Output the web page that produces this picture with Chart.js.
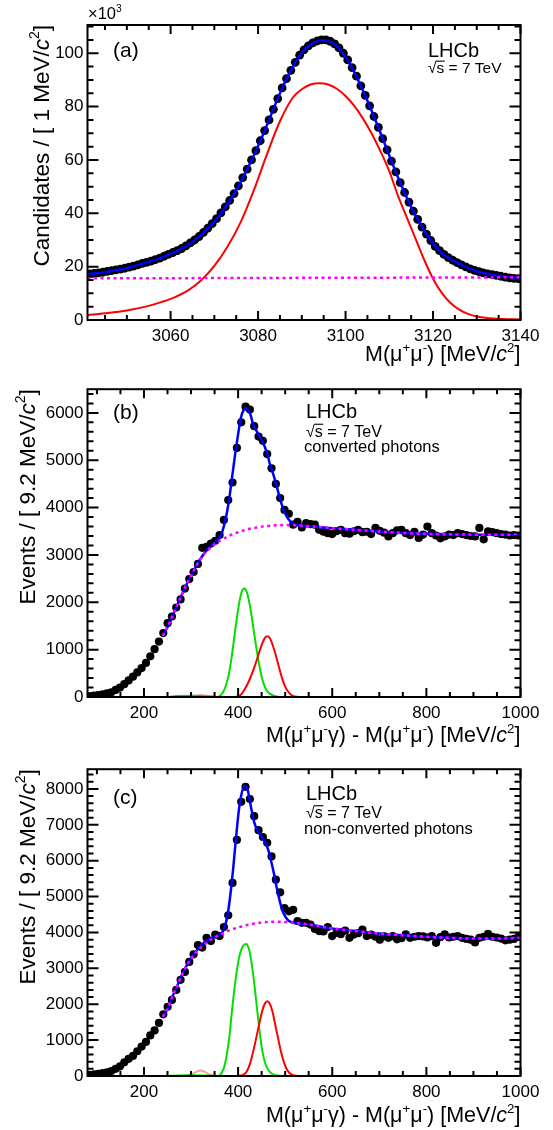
<!DOCTYPE html>
<html>
<head>
<meta charset="utf-8">
<script src="https://cdn.jsdelivr.net/npm/chart.js@4.4.1/dist/chart.umd.min.js"></script>
<style>
  html, body { margin: 0; padding: 0; background: #fff; }
  #wrap { position: relative; width: 553px; height: 1130px; }
  #wrap canvas { position: absolute; left: 0; }
</style>
</head>
<body>
<div id="wrap">
  <canvas id="panelA" width="553" height="375" style="top:0"></canvas>
  <canvas id="panelB" width="553" height="380" style="top:375px"></canvas>
  <canvas id="panelC" width="553" height="375" style="top:755px"></canvas>
</div>
<script>
// ---- (a) M(mu+mu-) , 1 MeV bins, counts in units of 10^3
const massLoA = 3041, binA = 1;
const countsA = [
  17.3, 17.5, 17.7, 17.9, 18.2, 18.5, 18.8, 19.1, 19.4, 19.8,
  20.2, 20.7, 21.2, 21.6, 22.1, 22.6, 23.2, 23.9, 24.6, 25.3,
  26.0, 26.8, 27.8, 28.9, 30.0, 31.3, 32.8, 34.4, 36.1, 38.0,
  40.2, 42.4, 44.8, 47.4, 50.3, 53.4, 56.6, 60.0, 63.5, 67.2,
  71.0, 75.0, 79.0, 83.0, 87.0, 90.5, 93.6, 96.6, 99.3, 101.3,
  102.8, 103.9, 104.6, 105.0, 105.0, 104.5, 103.5, 102.0, 100.0, 97.5,
  94.6, 91.4, 87.8, 84.2, 80.3, 76.3, 72.2, 68.0, 63.8, 59.6,
  55.5, 51.5, 47.8, 44.2, 40.8, 37.7, 34.8, 32.2, 29.8, 27.6,
  26.0, 24.6, 23.4, 22.4, 21.5, 20.7, 19.9, 19.2, 18.6, 18.1,
  17.7, 17.3, 17.0, 16.7, 16.4, 16.1, 15.8, 15.6, 15.5
];
const totalXA = [3041, 3043, 3045, 3047, 3049, 3051, 3053, 3055, 3057, 3059, 3061, 3063, 3065, 3067, 3069, 3071, 3073,
  3075, 3077, 3079, 3081, 3083, 3085, 3087, 3089, 3091, 3093, 3095, 3097, 3099, 3101, 3103, 3105, 3107, 3109, 3111,
  3113, 3115, 3117, 3119, 3121, 3123, 3125, 3127, 3129, 3131, 3133, 3135, 3137, 3139, 3140];
const totalYA = [17.1, 17.5, 17.95, 18.55, 19.15, 19.9, 20.85, 21.75, 22.8, 24.15, 25.55, 27.2, 29.35, 31.9, 35.1, 38.9, 43.5,
  48.7, 54.9, 61.6, 69, 77, 85, 92, 97.9, 102, 104.2, 104.9, 103.9, 100.9, 96, 89.5, 82.2, 74.2, 65.9, 57.5,
  49.6, 42.4, 36.2, 31, 26.7, 23.9, 21.9, 20.3, 18.9, 17.8, 17.2, 16.6, 16.2, 15.9, 15.8];
const signalXA = [3041, 3045, 3050, 3055, 3058, 3061, 3064, 3067, 3070, 3073, 3076, 3079, 3082, 3085, 3088, 3090, 3092,
  3094, 3096, 3098, 3100, 3102, 3104, 3106, 3108, 3110, 3112, 3114, 3116, 3118, 3120, 3122, 3124, 3126, 3128, 3130,
  3133, 3136, 3140];
const signalYA = [1.8, 2.5, 3.6, 5.3, 6.8, 8.6, 11.1, 14.9, 20.3, 27.5, 36.6, 48.5, 62, 74.5, 83.5, 86.5, 88.3,
  88.8, 88.3, 86.7, 84, 80.3, 75.5, 69.8, 63.2, 55.8, 46.5, 38.5, 30.5, 22.5, 15.5, 10.2, 6.4, 3.9, 2.3, 1.3,
  0.7, 0.35, 0.2];
const bkgXA = [3041, 3090, 3140];
const bkgYA = [15.6, 15.8, 16.0];
const ticksXA = [3060, 3080, 3100, 3120, 3140];
const ticksYA = [0, 20, 40, 60, 80, 100];

// ---- (b) converted photons, 9.2 MeV bins from 80 MeV
const deltaLo = 80, binB = 9.2;
const countsB = [
  20, 30, 40, 55, 75, 100, 150, 200, 270, 350,
  430, 520, 610, 720, 860, 1010, 1170, 1350, 1560, 1700,
  1890, 2060, 2290, 2490, 2640, 2810, 3150, 3170, 3240, 3300,
  3420, 3740, 4160, 4530, 5260, 5800, 6130, 6070, 5720, 5500,
  5410, 5130, 4830, 4500, 4200, 3950, 3870, 3640, 3700, 3580,
  3670, 3650, 3640, 3530, 3490, 3460, 3440, 3500, 3530, 3460,
  3450, 3500, 3530, 3480, 3490, 3440, 3570, 3510, 3470, 3390,
  3460, 3520, 3530, 3460, 3420, 3490, 3360, 3430, 3600, 3460,
  3410, 3350, 3390, 3430, 3420, 3460, 3440, 3420, 3400, 3390,
  3570, 3330, 3500, 3480, 3460, 3440, 3430, 3410, 3420, 3410
];
const totalXB = [240, 250, 260, 270, 280, 290, 300, 310, 320, 330, 340, 350, 358, 364, 370, 376, 382, 388, 394,
  400, 406, 412, 416, 420, 426, 432, 438, 444, 450, 456, 462, 468, 474, 480, 486, 492, 498, 504, 510,
  520, 530, 560, 600, 650, 700, 750, 800, 850, 900, 950, 1000];
const totalYB = [1290, 1480, 1700, 1930, 2150, 2370, 2560, 2750, 2920, 3060, 3170, 3260, 3340, 3420, 3620, 3880, 4250, 4700, 5150,
  5550, 5900, 6070, 6100, 6080, 5970, 5760, 5640, 5530, 5430, 5300, 5130, 4900, 4730, 4520, 4300, 4090, 3920, 3800, 3720,
  3650, 3625, 3600, 3565, 3530, 3495, 3465, 3445, 3435, 3428, 3425, 3425];
const bkgXB = [240, 250, 260, 270, 280, 290, 300, 310, 320, 330, 340, 350, 360, 380, 400, 420, 440, 460, 480, 500, 520,
  560, 600, 650, 700, 750, 800, 850, 900, 950, 1000];
const bkgYB = [1290, 1480, 1700, 1930, 2150, 2370, 2560, 2750, 2910, 3040, 3140, 3220, 3290, 3400, 3480, 3540, 3580, 3610, 3625, 3630, 3625,
  3600, 3565, 3530, 3495, 3465, 3445, 3435, 3428, 3425, 3425];
const chic1XB = [250, 270, 300, 330, 354, 368, 379, 386, 393, 400, 407, 413, 419, 426, 433, 441, 450, 460, 475, 490];
const chic1YB = [0, 20, 28, 18, 0, 100, 420, 820, 1350, 1850, 2200, 2290, 2200, 1880, 1420, 900, 430, 150, 30, 0];
const chic2XB = [395, 405, 415, 425, 435, 445, 452, 457, 462, 467, 472, 479, 486, 493, 500, 508, 516, 530];
const chic2YB = [0, 40, 180, 380, 640, 950, 1150, 1250, 1285, 1250, 1140, 920, 660, 410, 220, 90, 25, 0];
const chic0XB = [290, 305, 320, 335, 350];
const chic0YB = [0, 25, 40, 25, 0];
const ticksXB = [200, 400, 600, 800, 1000];
const ticksYB = [0, 1000, 2000, 3000, 4000, 5000, 6000];

// ---- (c) non-converted photons
const countsC = [
  30, 45, 60, 80, 105, 140, 200, 270, 380, 480,
  560, 690, 820, 950, 1130, 1270, 1480, 1720, 1930, 2120,
  2400, 2680, 2900, 3180, 3390, 3650, 3580, 3850, 3760, 3940,
  3900, 4150, 4480, 5380, 6580, 7640, 8060, 7720, 7240, 6850,
  6660, 6500, 6120, 5470, 5120, 4680, 4590, 4630, 4320, 4270,
  4270, 4220, 4100, 4040, 4030, 4150, 3900, 3990, 3950, 4050,
  3850, 3940, 3980, 4080, 3900, 3940, 3880, 3800, 3890, 3850,
  3900, 3810, 3840, 3950, 3850, 3880, 3900, 3890, 3860, 3900,
  3710, 3870, 3950, 3860, 3880, 3900, 3850, 3820, 3800, 3720,
  3850, 3880, 3960, 3880, 3860, 3830, 3780, 3800, 3820, 3880
];
const totalXC = [240, 250, 260, 270, 280, 290, 300, 310, 320, 330, 340, 350, 360, 366, 372, 378, 384, 390, 396, 402, 408, 414, 418,
  422, 428, 434, 440, 446, 452, 458, 464, 470, 476, 482, 488, 494, 500, 508, 516, 530, 550, 600, 650, 700, 750, 800, 850, 900, 950, 1000];
const totalYC = [1650, 1870, 2200, 2490, 2800, 3060, 3280, 3460, 3620, 3740, 3820, 3880, 3940, 4000, 4170, 4520, 5100, 5850, 6700, 7450, 7900, 8080, 8060,
  7880, 7450, 7080, 6870, 6740, 6630, 6500, 6300, 6000, 5650, 5250, 4900, 4620, 4450, 4320, 4280, 4250, 4220, 4110, 4040, 3970, 3920, 3880, 3850, 3830, 3830, 3850];
const bkgXC = [240, 250, 260, 270, 280, 290, 300, 310, 320, 340, 360, 380, 400, 420, 440, 460, 480, 500, 520,
  550, 600, 650, 700, 750, 800, 850, 900, 950, 1000];
const bkgYC = [1650, 1870, 2200, 2490, 2800, 3060, 3270, 3440, 3570, 3780, 3930, 4050, 4140, 4210, 4260, 4290, 4300, 4290, 4270,
  4220, 4110, 4040, 3970, 3920, 3880, 3850, 3830, 3830, 3850];
const chic1XC = [250, 270, 300, 330, 356, 364, 372, 381, 388, 395, 402, 410, 417, 423, 429, 436, 443, 450, 459, 471, 490];
const chic1YC = [0, 15, 22, 15, 0, 60, 330, 1050, 1950, 2720, 3300, 3620, 3680, 3540, 3120, 2380, 1550, 820, 300, 70, 0];
const chic2XC = [400, 410, 418, 425, 432, 439, 446, 452, 457, 462, 467, 473, 479, 485, 491, 498, 505, 514, 530];
const chic2YC = [0, 30, 120, 330, 680, 1090, 1520, 1850, 2020, 2080, 2020, 1800, 1420, 1050, 680, 360, 150, 40, 0];
const chic0XC = [285, 300, 312, 320, 328, 340, 355];
const chic0YC = [0, 40, 120, 150, 120, 40, 0];
const ticksYC = [0, 1000, 2000, 3000, 4000, 5000, 6000, 7000, 8000];

const FONT = '"Liberation Sans", Arial, Helvetica, sans-serif';
const PLOT_LEFT = 87.5, PLOT_RIGHT = 520.5;

// text made of pieces: [text, flags] with i = italic, u = superscript, o = overline (for sqrt s)
function drawRich(ctx, segs, x, y, size, align, rot) {
  const fontFor = f => (f.includes('i') ? 'italic ' : '') + (f.includes('u') ? size * 0.62 : size) + 'px ' + FONT;
  let w = 0;
  segs.forEach(s => { ctx.font = fontFor(s[1] || ''); w += ctx.measureText(s[0]).width; });
  ctx.save();
  ctx.translate(x, y);
  if (rot) ctx.rotate(rot);
  ctx.fillStyle = '#000';
  ctx.textAlign = 'left';
  ctx.textBaseline = 'alphabetic';
  let cx = align === 'right' ? -w : (align === 'center' ? -w / 2 : 0);
  segs.forEach(s => {
    const f = s[1] || '';
    ctx.font = fontFor(f);
    const dy = f.includes('u') ? -size * 0.42 : 0;
    const sw = ctx.measureText(s[0]).width;
    ctx.fillText(s[0], cx, dy);
    if (f.includes('o')) ctx.fillRect(cx - 0.5, -size * 0.8, sw + 1, 1.1);
    cx += sw;
  });
  ctx.restore();
}

function tickMarks(ctx, scale, major, minor, area, bigLen, smallLen, horizontal) {
  const start = Math.ceil(scale.min / minor - 1e-6) * minor;
  for (let i = 0; ; i++) {
    const v = start + i * minor;
    if (v > scale.max + 1e-6) break;
    const isMajor = Math.abs(v / major - Math.round(v / major)) < 1e-6;
    const len = isMajor ? bigLen : smallLen;
    const p = scale.getPixelForValue(v);
    if (horizontal) {
      ctx.moveTo(p, area.bottom); ctx.lineTo(p, area.bottom - len);
      ctx.moveTo(p, area.top); ctx.lineTo(p, area.top + len);
    } else {
      ctx.moveTo(area.left, p); ctx.lineTo(area.left + len, p);
      ctx.moveTo(area.right, p); ctx.lineTo(area.right - len, p);
    }
  }
}

// ROOT-like frame: box, inward ticks on all four sides, titles and labels
const rootFrame = {
  id: 'rootFrame',
  afterDatasetsDraw(chart, args, opts) {
    const { ctx, chartArea: a, scales: { x, y } } = chart;
    ctx.save();
    ctx.strokeStyle = '#000';
    ctx.lineWidth = 2;
    ctx.beginPath();
    tickMarks(ctx, x, opts.xMajor, opts.xMinor, a, 9, 5, true);
    tickMarks(ctx, y, opts.yMajor, opts.yMinor, a, 11, 6, false);
    ctx.stroke();
    ctx.strokeRect(a.left, a.top, a.right - a.left, a.bottom - a.top);
    ctx.restore();

    drawRich(ctx, opts.xTitle, a.right, opts.xTitleY, 21.5, 'right');
    drawRich(ctx, opts.yTitle, opts.yTitleX, a.top, 22.5, 'right', -Math.PI / 2);
    opts.labels.forEach(l => drawRich(ctx, l.segs, l.x, l.y, l.size, 'left'));
  }
};

function binned(counts, lo, width) {
  return counts.map((v, i) => ({ x: lo + (i + 0.5) * width, y: v }));
}

function curve(xs, ys) {
  return xs.map((x, i) => ({ x, y: ys[i] }));
}

function lineSet(data, color, width, dash) {
  return {
    data, showLine: true, pointRadius: 0, borderColor: color, borderWidth: width,
    borderDash: dash || [], cubicInterpolationMode: 'monotone', fill: false
  };
}

function pointSet(data, radius) {
  return { data, showLine: false, pointRadius: radius, pointBackgroundColor: '#000', pointBorderWidth: 0 };
}

function initPanel(id, datasets, cfg) {
  const canvas = document.getElementById(id);
  const tickFont = { family: FONT, size: 17 };
  new Chart(canvas, {
    type: 'scatter',
    data: { datasets },
    options: {
      responsive: false,
      animation: false,
      events: [],
      layout: { padding: { left: 0, right: canvas.width - PLOT_RIGHT, top: cfg.top, bottom: 0 } },
      plugins: { legend: { display: false }, tooltip: { enabled: false }, rootFrame: cfg },
      scales: {
        x: {
          type: 'linear', min: cfg.xMin, max: cfg.xMax,
          grid: { display: false, drawTicks: false }, border: { display: false },
          ticks: { autoSkip: false, maxRotation: 0, padding: 6, color: '#000', font: tickFont, callback: v => String(v) },
          afterBuildTicks: s => { s.ticks = cfg.xTicks.map(v => ({ value: v })); },
          afterFit: s => { s.height = canvas.height - cfg.bottom; }
        },
        y: {
          type: 'linear', min: 0, max: cfg.yMax,
          grid: { display: false, drawTicks: false }, border: { display: false },
          ticks: { autoSkip: false, padding: 4, color: '#000', font: tickFont, callback: v => String(v) },
          afterBuildTicks: s => { s.ticks = cfg.yTicks.map(v => ({ value: v })); },
          afterFit: s => { s.width = PLOT_LEFT; }
        }
      }
    },
    plugins: [rootFrame]
  });
}

const deltaTitle = [['M(\u03bc'], ['+', 'u'], ['\u03bc'], ['-', 'u'], ['\u03b3) - M(\u03bc'], ['+', 'u'], ['\u03bc'], ['-', 'u'],
  [') [MeV/'], ['c', 'i'], ['2', 'u'], [']']];
const eventsTitle = [['Events / [ 9.2 MeV/'], ['c', 'i'], ['2', 'u'], [']']];
const sqrtS = [['\u221a'], ['s', 'o'], [' = 7 TeV']];

document.addEventListener('DOMContentLoaded', () => {
  initPanel('panelA', [
    lineSet(curve(bkgXA, bkgYA), '#ff00ff', 2.5, [3, 3.5]),
    lineSet(curve(totalXA, totalYA), '#0000ff', 2.5),
    lineSet(curve(signalXA, signalYA), '#ff0000', 2),
    pointSet(binned(countsA, massLoA, binA), 4.4)
  ], {
    top: 25, bottom: 320, xMin: 3041, xMax: 3140, yMax: 110.6,
    xTicks: ticksXA, yTicks: ticksYA,
    xMajor: 20, xMinor: 5, yMajor: 20, yMinor: 5,
    xTitle: [['M(\u03bc'], ['+', 'u'], ['\u03bc'], ['-', 'u'], [') [MeV/'], ['c', 'i'], ['2', 'u'], [']']],
    xTitleY: 361,
    yTitle: [['Candidates / [ 1 MeV/'], ['c', 'i'], ['2', 'u'], [']']],
    yTitleX: 48.5,
    labels: [
      { segs: [['\u00d710'], ['3', 'u']], x: 88, y: 19, size: 16.5 },
      { segs: [['(a)']], x: 113, y: 57, size: 21 },
      { segs: [['LHCb']], x: 428, y: 57, size: 20 },
      { segs: sqrtS, x: 428, y: 73, size: 15.5 }
    ]
  });

  initPanel('panelB', [
    lineSet(curve(bkgXB, bkgYB), '#ff00ff', 2.5, [3, 3.5]),
    lineSet(curve(totalXB, totalYB), '#0000ff', 2.5),
    lineSet(curve(chic2XB, chic2YB), '#ff0000', 2),
    lineSet(curve(chic1XB, chic1YB), '#00e000', 2),
    lineSet(curve(chic0XB, chic0YB), '#ffa0a0', 2),
    pointSet(binned(countsB, deltaLo, binB), 4.1)
  ], {
    top: 13, bottom: 322, xMin: 80, xMax: 1000, yMax: 6500,
    xTicks: ticksXB, yTicks: ticksYB,
    xMajor: 200, xMinor: 50, yMajor: 1000, yMinor: 200,
    xTitle: deltaTitle, xTitleY: 367,
    yTitle: eventsTitle, yTitleX: 34.5,
    labels: [
      { segs: [['(b)']], x: 113, y: 44, size: 21 },
      { segs: [['LHCb']], x: 306, y: 43, size: 20 },
      { segs: sqrtS, x: 306, y: 61.5, size: 16 },
      { segs: [['converted photons']], x: 304, y: 77, size: 16.5 }
    ]
  });

  initPanel('panelC', [
    lineSet(curve(bkgXC, bkgYC), '#ff00ff', 2.5, [3, 3.5]),
    lineSet(curve(totalXC, totalYC), '#0000ff', 2.5),
    lineSet(curve(chic2XC, chic2YC), '#ff0000', 2),
    lineSet(curve(chic1XC, chic1YC), '#00e000', 2),
    lineSet(curve(chic0XC, chic0YC), '#ffa0a0', 2),
    pointSet(binned(countsC, deltaLo, binB), 4.1)
  ], {
    top: 12, bottom: 321, xMin: 80, xMax: 1000, yMax: 8550,
    xTicks: ticksXB, yTicks: ticksYC,
    xMajor: 200, xMinor: 50, yMajor: 1000, yMinor: 200,
    xTitle: deltaTitle, xTitleY: 367,
    yTitle: eventsTitle, yTitleX: 34.5,
    labels: [
      { segs: [['(c)']], x: 113, y: 49, size: 21 },
      { segs: [['LHCb']], x: 306, y: 45, size: 20 },
      { segs: sqrtS, x: 306, y: 63, size: 16 },
      { segs: [['non-converted photons']], x: 304, y: 79, size: 16.5 }
    ]
  });
});
</script>
</body>
</html>
